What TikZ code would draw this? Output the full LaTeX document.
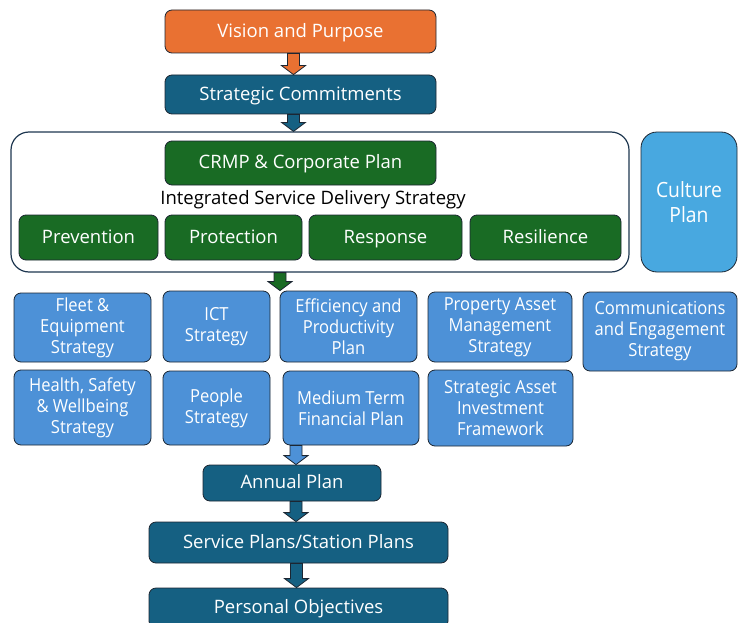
\documentclass[tikz,border=0pt]{standalone}
\usepackage{fontspec}
\usepackage{tikz}
\setmainfont{Open Sans}
\newfontfamily\narrowfont{Open Sans}[FakeStretch=0.92]
\usetikzlibrary{calc}
\definecolor{visionorange}{RGB}{233,113,50}
\definecolor{commitblue}{RGB}{21,96,130}
\definecolor{deliverygreen}{RGB}{25,107,36}
\definecolor{strategyblue}{RGB}{77,145,215}
\definecolor{cultureblue}{RGB}{72,168,224}
\definecolor{edgedark}{RGB}{28,38,50}
\definecolor{framedark}{RGB}{30,55,80}

% block arrow: x taken from the first point, tip on the second
\newcommand{\blockarrow}[3]{%
  \filldraw[draw=edgedark, fill=#3, line width=0.8pt]
    let \p1=(#1), \p2=(#2) in
    (\x1-6pt,\y1) -- (\x1+6pt,\y1) -- (\x1+6pt,\y2+9pt) -- (\x1+12pt,\y2+9pt)
    -- (\x1,\y2) -- (\x1-12pt,\y2+9pt) -- (\x1-6pt,\y2+9pt) -- cycle;}

\tikzset{
    box/.style={rectangle, rounded corners=7pt, draw=edgedark, line width=0.8pt,
                text=white, align=center, inner sep=2pt},
    mainbox/.style={box, font=\fontsize{18.5}{21}\selectfont, text height=14pt, text depth=2.5pt},
    greenbox/.style={mainbox, fill=deliverygreen, minimum height=45pt},
    tierbox/.style={box, fill=strategyblue, font=\narrowfont\fontsize{18}{21}\selectfont},
}

\begin{document}
\begin{tikzpicture}[x=1pt, y=-1pt]
    \useasboundingbox (0,0) rectangle (738,623);

    % integrated delivery frame
    \node[rectangle, rounded corners=18pt, draw=framedark, line width=1.2pt, fill=white,
          minimum width=618pt, minimum height=140pt] (frame) at (320,202) {};

    \node[mainbox, fill=visionorange, minimum width=271pt, minimum height=43pt] (vision) at (300.5,31.5) {Vision and Purpose};
    \node[mainbox, fill=commitblue, minimum width=271pt, minimum height=39pt] (commit) at (300.5,94.5) {Strategic Commitments};
    \node[greenbox, minimum width=271pt, minimum height=44pt] (crmp) at (300.5,163) {CRMP \& Corporate Plan};
    \node[font=\fontsize{18.5}{21}\selectfont] (isds) at (313,200) {Integrated Service Delivery Strategy};

    \node[greenbox, minimum width=139pt] (prev) at (88.5,237.5) {Prevention};
    \node[greenbox, minimum width=137pt] (prot) at (233.5,237.5) {Protection};
    \node[greenbox, minimum width=153pt] (resp) at (385.5,237.5) {Response};
    \node[greenbox, minimum width=151pt] (resil) at (545.5,237.5) {Resilience};

    \node[box, fill=cultureblue, rounded corners=16pt, minimum width=96pt, minimum height=140pt,
          font=\narrowfont\fontsize{21}{25}\selectfont] (culture) at (689,202) {Culture\\Plan};

    % supporting strategies
    \node[tierbox, minimum width=137pt, minimum height=69pt] (fleet) at (82.5,327.5) {Fleet \&\\Equipment\\Strategy};
    \node[tierbox, minimum width=107pt, minimum height=71pt] (ict) at (216.5,326.5) {ICT\\Strategy};
    \node[tierbox, minimum width=137pt, minimum height=71pt] (eff) at (348.5,326.5) {Efficiency and\\Productivity\\Plan};
    \node[tierbox, minimum width=144pt, minimum height=70pt] (prop) at (500,327) {Property Asset\\Management\\Strategy};
    \node[tierbox, minimum width=154pt, minimum height=79pt] (comms) at (660,331.5) {Communications\\and Engagement\\Strategy};

    \node[tierbox, minimum width=137pt, minimum height=75pt] (health) at (82.5,407.5) {Health, Safety\\\& Wellbeing\\Strategy};
    \node[tierbox, minimum width=107pt, minimum height=74pt] (people) at (216.5,408) {People\\Strategy};
    \node[tierbox, minimum width=136pt, minimum height=74pt] (mtfp) at (351,408) {Medium Term\\Financial Plan};
    \node[tierbox, minimum width=145pt, minimum height=76pt] (saif) at (500.5,408) {Strategic Asset\\Investment\\Framework};

    % delivery plans
    \node[mainbox, fill=commitblue, minimum width=178pt, minimum height=36pt] (annual) at (292,483) {Annual Plan};
    \node[mainbox, fill=commitblue, minimum width=299pt, minimum height=41pt] (service) at (298.5,542.5) {Service Plans/Station Plans};
    \node[mainbox, fill=commitblue, minimum width=299pt, minimum height=40pt] (personal) at (298.5,608) {Personal Objectives};

    \blockarrow{[xshift=-7pt]vision.south}{commit.north}{visionorange}
    \blockarrow{[xshift=-7pt]commit.south}{frame.north}{commitblue}
    \blockarrow{[xshift=-40pt]frame.south}{ict.north}{deliverygreen}
    \blockarrow{[xshift=4pt]annual.north |- mtfp.south}{annual.north}{strategyblue}
    \blockarrow{[xshift=4pt]annual.south}{service.north}{commitblue}
    \blockarrow{[xshift=-2pt]service.south}{personal.north}{commitblue}
\end{tikzpicture}
\end{document}
